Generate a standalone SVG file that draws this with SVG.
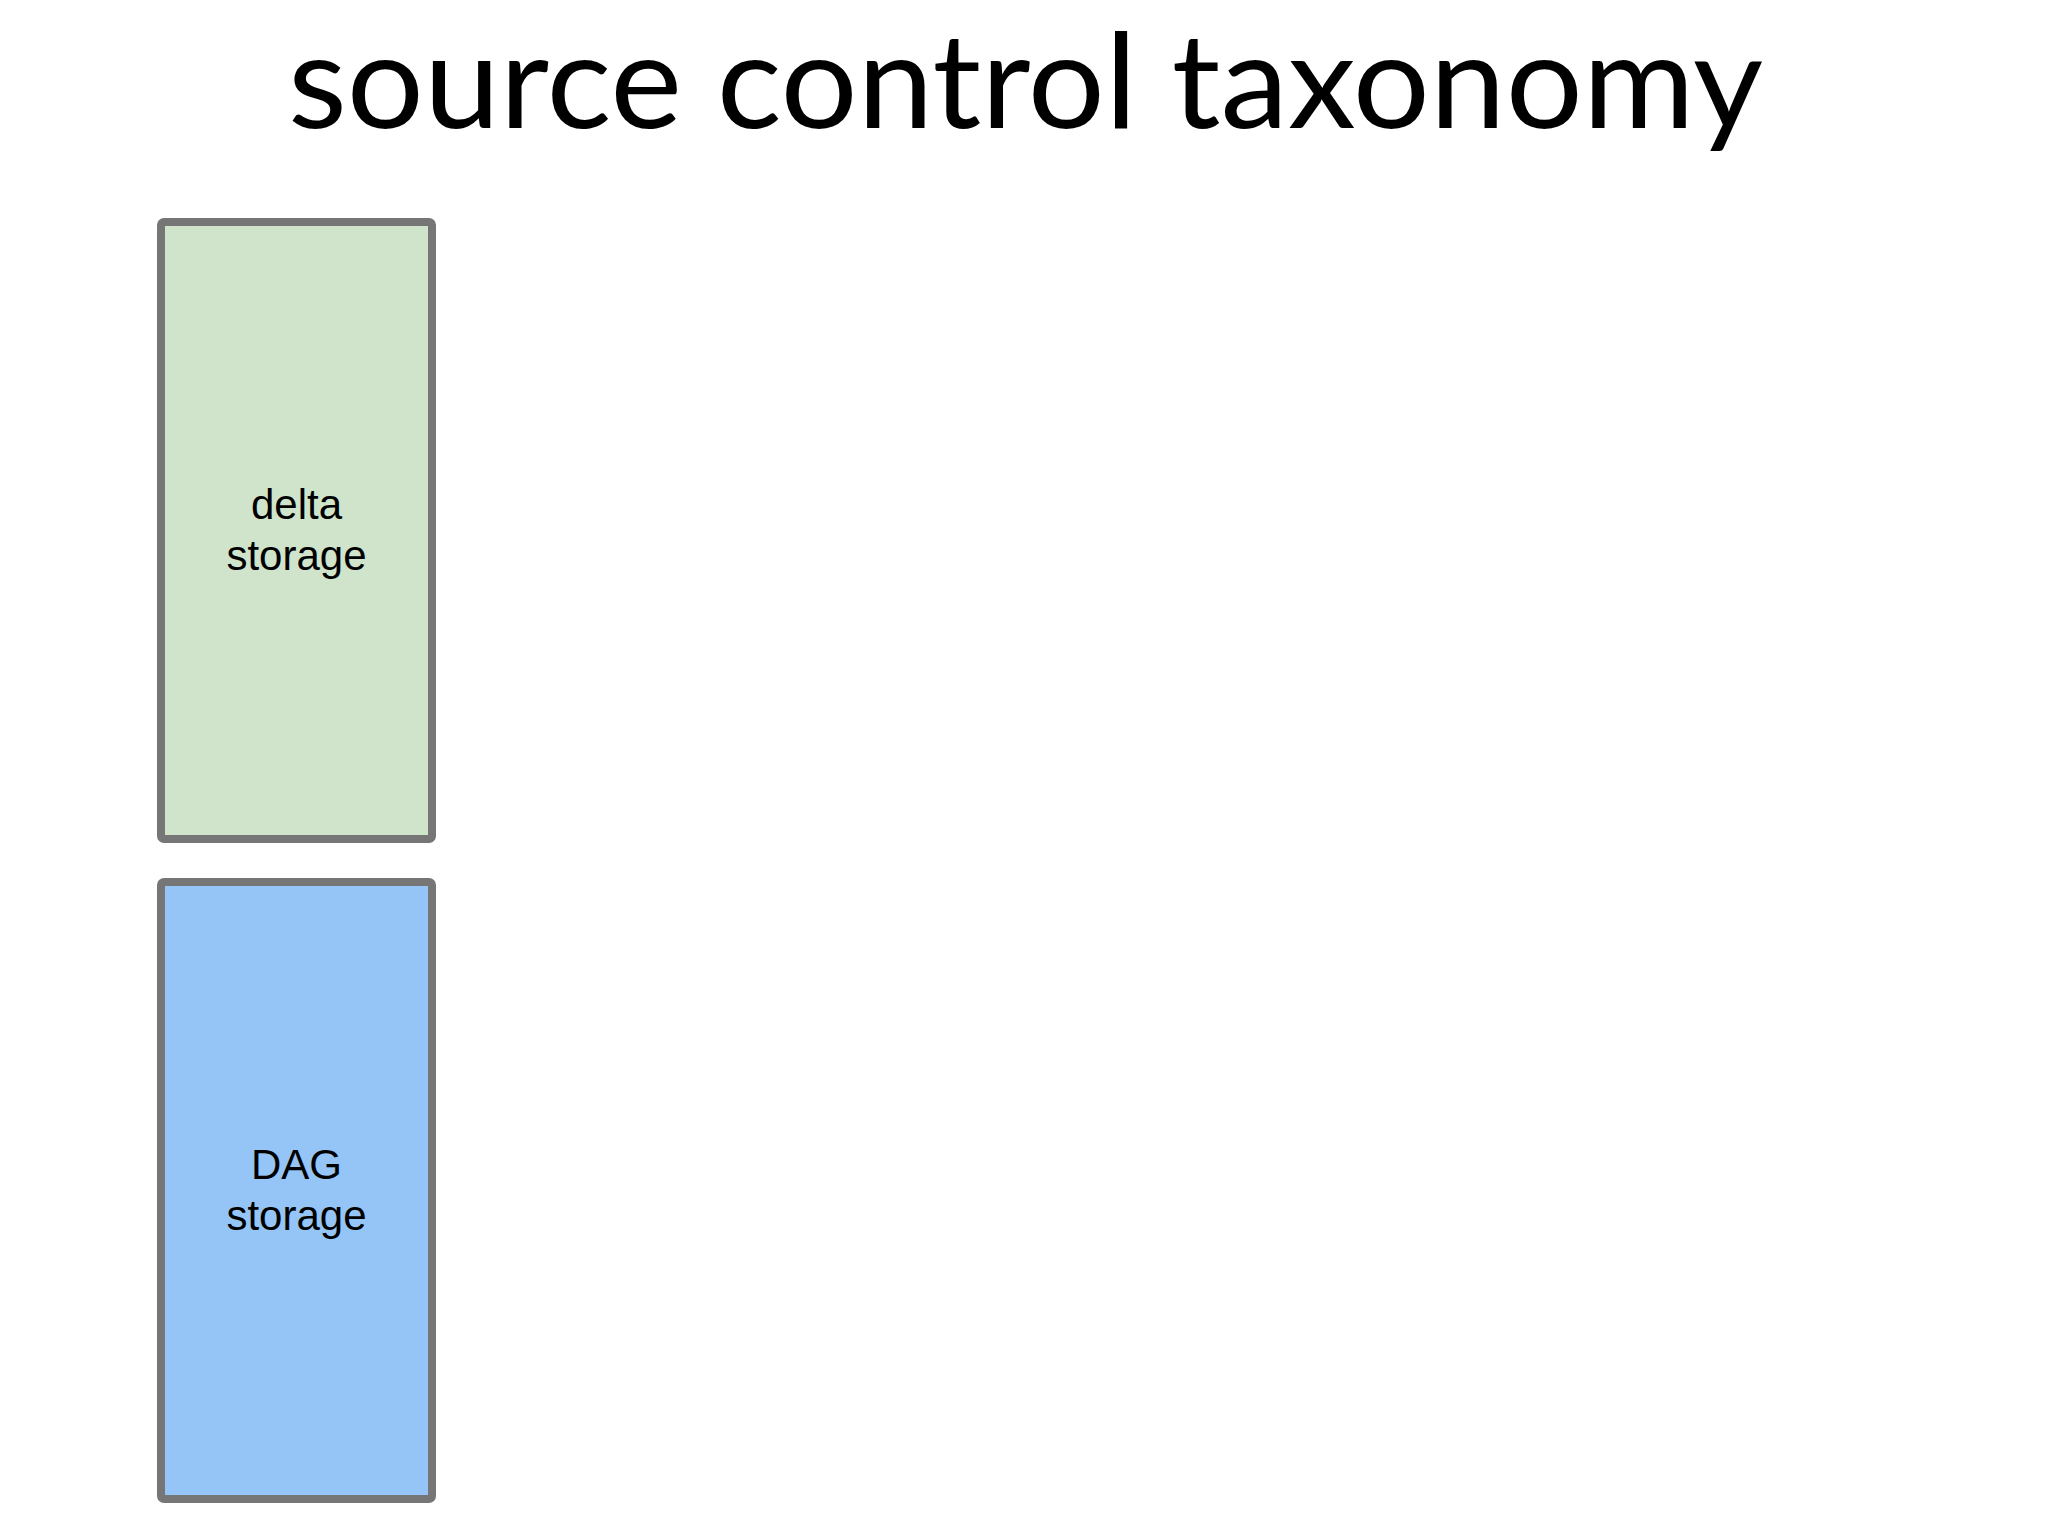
<svg xmlns="http://www.w3.org/2000/svg" width="2048" height="1536" viewBox="0 0 2048 1536">
  <style>
    .title { font-family: Lato, "Open Sans", sans-serif; font-size: 132px; fill: #000; }
    .box { stroke: #767676; stroke-width: 8; }
    .label { font-family: "Liberation Sans", Arial, sans-serif; font-size: 42px; fill: #000; text-anchor: middle; }
  </style>
  <rect width="2048" height="1536" fill="#ffffff"/>
  <text class="title" x="288" y="128" textLength="1475" lengthAdjust="spacingAndGlyphs">source control taxonomy</text>
  <g id="delta-storage">
    <rect class="box" x="161" y="222" width="271" height="617" rx="3" fill="#cfe4cb"/>
    <text class="label" x="296.5" y="519">delta</text>
    <text class="label" x="296.5" y="570">storage</text>
  </g>
  <g id="dag-storage">
    <rect class="box" x="161" y="882" width="271" height="617" rx="3" fill="#95c5f6"/>
    <text class="label" x="296.5" y="1179">DAG</text>
    <text class="label" x="296.5" y="1230">storage</text>
  </g>
  <g id="connectors"></g>
</svg>
